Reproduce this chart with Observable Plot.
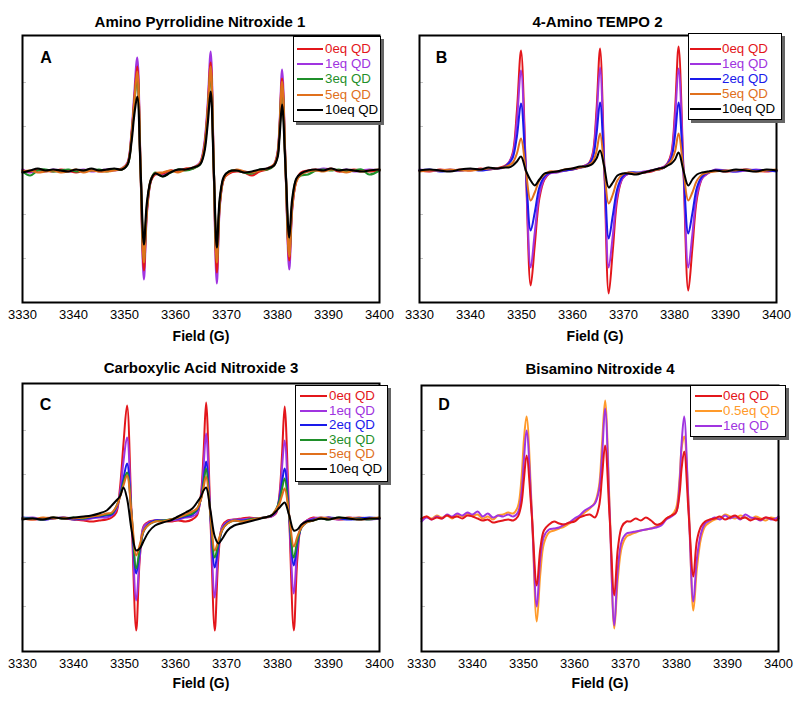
<!DOCTYPE html>
<html><head><meta charset="utf-8">
<script src="https://cdn.jsdelivr.net/npm/d3@7"></script>
<script src="https://cdn.jsdelivr.net/npm/@observablehq/plot@0.6"></script>
<style>
body{margin:0;background:#fff;font-family:"Liberation Sans",Arial,sans-serif;}
#fig{position:relative;width:800px;height:701px;overflow:hidden;background:#fff;}
.panel{position:absolute;}
.lbl{position:absolute;transform:translate(-50%,-50%);white-space:nowrap;font-weight:bold;color:#000;}
.legend{position:absolute;background:#fff;border:1px solid #000;box-shadow:3px 3px 0 #666;box-sizing:border-box;z-index:5;}
.legend .sw{position:absolute;height:2px;}
.legend .tx{position:absolute;font-size:13.3px;line-height:16px;height:16px;white-space:nowrap;}
</style></head>
<body><div id="fig"></div>
<script>
// ---------- shared ticks ----------
const fieldTicks = [3330, 3340, 3350, 3360, 3370, 3380, 3390, 3400];
const yTicks = [-88, -44, 0, 44, 88];

// ---------- Panel A: Amino Pyrrolidine Nitroxide 1 ----------
const fieldA = [3330, 3331.5, 3333, 3334.5, 3336, 3337.5, 3339, 3340.5, 3342, 3343.5, 3345, 3346.5, 3348, 3349.5,
  3350.6, 3351.4, 3351.9, 3352.5, 3353.15, 3353.8, 3354.4, 3355.2, 3356,
  3357.5, 3359, 3360.5, 3362, 3363.5, 3364.8,
  3365.6, 3366.3, 3366.9, 3367.5, 3368.1, 3368.7, 3369.5, 3370.5,
  3372, 3373.5, 3375, 3376.5, 3378, 3379.3,
  3380.0, 3380.4, 3380.9, 3381.6, 3382.3, 3382.9, 3383.7, 3384.6,
  3386, 3387.5, 3389, 3390.5, 3392, 3393.5, 3395, 3396.5, 3398, 3400];
const A_0eq = [0, -1, 1, 0, -1, 1, 0, -2, 0, 1, -1, 0, 1, 1,
  7, 37, 69, 104, 1, -100, -40, -10, -4,
  -3, 0, -1, 2, 2, 7,
  22, 60, 108, 2, -102, -33, -8, -3,
  -1, -2, -5, -1, 1, 5,
  16, 42, 92, 0, -90, -36, -10, -2,
  0, 1, 0, 2, -1, 0, 1, 0, -1, 0];
const A_1eq = [1, -2, 0, -1, 1, 0, -1, 0, 1, -1, 0, 1, 0, 2,
  8, 40, 75, 113, 2, -109, -42, -10, -3,
  -4, -1, 0, 1, 3, 8,
  25, 65, 119, 3, -113, -35, -8, -2,
  0, -1, -3, 0, 2, 6,
  18, 45, 101, 0, -99, -38, -10, -3,
  -1, 0, 2, 1, 0, 1, -1, 0, 1, 0];
const A_3eq = [-1, -5, 0, 1, -1, 0, 1, -1, 0, 0, 1, -1, 1, 1,
  6, 35, 65, 95, 1, -90, -37, -9, -2,
  -6, -2, 1, 0, 2, 6,
  20, 56, 100, 2, -90, -31, -7, -1,
  0, -2, -3, 1, 1, 5,
  15, 40, 85, 0, -84, -33, -9, -5,
  -4, 0, 1, 0, 1, -1, 0, 1, -4, 0];
const A_5eq = [-1, 0, -2, -1, 0, -2, -1, 1, -2, 0, -1, -1, 0, 2,
  7, 36, 67, 99, 1, -92, -38, -9, -3,
  -2, 0, -2, 1, 3, 7,
  21, 58, 104, 2, -92, -32, -8, -2,
  1, -1, -2, 0, 2, 6,
  16, 41, 89, 0, -86, -35, -11, -4,
  -1, 0, -1, 1, 0, -2, 0, -1, 0, 1];
const A_10eq = [-2, 0, 2, 0, 1, 0, -1, 1, 0, 2, 0, 1, 2, 1,
  6, 30, 55, 74, 1, -74, -32, -9, -3,
  -6, -2, 1, 1, 3, 6,
  17, 46, 79, 2, -77, -27, -6, -1,
  0, -2, -1, 1, 2, 5,
  13, 34, 66, 0, -67, -28, -8, -3,
  0, 1, 0, 2, 0, 1, 0, -1, 0, 1];

// ---------- Panel B: 4-Amino TEMPO 2 ----------
const fieldB = [3330, 3332, 3334, 3336, 3338, 3340, 3342, 3343.5, 3345, 3346.5,
  3347.5, 3348.3, 3349.1, 3349.9, 3350.85, 3351.8, 3352.6, 3353.5, 3354.5, 3355.5,
  3357, 3358.5, 3360, 3361.5, 3362.5,
  3363.3, 3364.0, 3364.7, 3365.4, 3366.25, 3367.1, 3367.9, 3368.8, 3369.8, 3371,
  3372.5, 3374, 3375.5, 3377, 3378,
  3378.7, 3379.4, 3380.1, 3380.8, 3381.75, 3382.7, 3383.5, 3384.4, 3385.4, 3386.5,
  3388, 3390, 3392, 3394, 3396, 3398, 3400];
const B_0eq = [0, -1, 1, 0, 1, 0, 2, 1, 2, 4,
  8, 18, 60, 120, 2, -115, -75, -28, -9, -3,
  -1, 0, 1, 3, 5,
  8, 18, 60, 122, 2, -123, -80, -28, -8, -3,
  -3, -2, -1, 2, 4,
  8, 18, 60, 124, 2, -120, -78, -28, -8, -3,
  0, -1, 0, 1, 0, -1, 0];
const B_1eq = [1, 0, 0, 1, 0, 1, 1, 2, 2, 3,
  8, 16, 50, 100, 2, -97, -62, -24, -8, -3,
  -2, 0, 2, 3, 5,
  7, 16, 52, 103, 2, -97, -65, -24, -8, -3,
  -3, -1, 0, 2, 4,
  7, 16, 52, 102, 2, -97, -64, -24, -8, -3,
  1, 0, -1, 0, 1, 0, 0];
const B_2eq = [0, 1, -1, 0, 0, 1, 0, 1, 2, 3,
  7, 13, 34, 67, 1, -60, -42, -17, -6, -2,
  -1, 0, 1, 3, 4,
  7, 13, 36, 68, 1, -68, -45, -18, -6, -2,
  -2, -2, 0, 1, 3,
  7, 13, 35, 68, 1, -63, -43, -17, -6, -2,
  0, 0, -1, 1, 0, 0, -1];
const B_5eq = [-1, 0, 0, 1, 0, 0, 1, 2, 2, 3,
  5, 8, 17, 32, 0, -30, -22, -10, -4, -1,
  -1, 1, 2, 3, 4,
  6, 9, 19, 37, 1, -33, -24, -10, -4, -2,
  -3, -2, 0, 1, 3,
  6, 10, 19, 37, 1, -30, -22, -10, -4, -2,
  -1, 0, 0, 1, -1, 0, 1];
const B_10eq = [0, 1, 0, -1, 1, 2, 1, 3, 2, 3,
  3, 5, 9, 14, 0, -10, -15, -9, -3, -2,
  -1, 1, 2, 4, 4,
  5, 7, 12, 20, 3, -17, -12, -5, -3, -3,
  -4, -2, 0, 2, 3,
  5, 7, 11, 18, 0, -15, -9, -4, -2, -1,
  0, -1, 1, 0, -1, 1, 0];

// ---------- Panel C: Carboxylic Acid Nitroxide 3 ----------
const fieldC = [3330, 3332, 3334, 3336, 3338, 3340, 3342, 3343.5, 3345, 3346.5,
  3347.5, 3348.4, 3349.1, 3349.8, 3350.5, 3351.4, 3352.3, 3353.0, 3353.8, 3354.8, 3356,
  3357.5, 3359, 3360.5, 3362, 3363.3,
  3364.2, 3365.0, 3365.5, 3366.0, 3366.85, 3367.7, 3368.4, 3369.2, 3370.2, 3371.5,
  3373, 3374.5, 3376, 3377.5, 3378.8,
  3379.7, 3380.4, 3380.9, 3381.4, 3382.3, 3383.2, 3383.9, 3384.7, 3385.7, 3387,
  3388.5, 3390, 3392, 3394, 3396, 3398, 3400];
const C_0eq = [0, -1, 0, 1, 0, -1, -2, -3, -2, -1,
  1, 6, 30, 75, 113, 0, -112, -40, -7, -3, -2,
  -2, -3, -2, -3, -1,
  3, 25, 65, 116, 0, -112, -40, -7, -2, -1,
  0, 1, 0, 1, 2,
  5, 25, 65, 112, 0, -112, -40, -7, -2, 1,
  0, 1, -1, 0, 1, 0, 0];
const C_1eq = [0, 1, -1, 0, 1, 0, -1, 0, 1, 1,
  3, 9, 25, 57, 81, 0, -82, -38, -8, -4, -2,
  -2, -2, -1, 1, 2,
  5, 22, 52, 85, 0, -79, -32, -8, -3, -1,
  -1, 0, 0, 1, 2,
  6, 22, 52, 78, 0, -75, -30, -7, -2, 0,
  1, 0, -1, 1, 0, -1, 0];
const C_2eq = [1, 0, -1, 0, 1, -1, 0, 1, 2, 3,
  4, 11, 22, 40, 55, 2, -55, -32, -12, -5, -2,
  -2, -1, 0, 2, 4,
  8, 20, 38, 57, 2, -49, -28, -11, -4, -2,
  -2, -1, 0, 1, 3,
  8, 20, 37, 50, 2, -47, -25, -9, -4, -1,
  0, 1, 0, -1, 0, 1, 0];
const C_3eq = [0, 0, -1, 1, 0, 1, 0, 2, 3, 4,
  5, 12, 22, 36, 46, 3, -50, -30, -12, -6, -3,
  -2, -1, 1, 3, 5,
  9, 20, 35, 50, 3, -39, -25, -11, -5, -2,
  -3, -1, 0, 1, 3,
  9, 18, 30, 40, 2, -39, -22, -9, -4, -2,
  0, -1, 1, 0, 0, -1, 1];
const C_5eq = [0, -1, 1, 0, 1, 0, 1, 2, 3, 5,
  6, 12, 21, 33, 43, 4, -37, -26, -12, -6, -3,
  -3, -1, 1, 4, 7,
  10, 19, 31, 42, 4, -32, -22, -11, -5, -2,
  -3, -2, 0, 1, 3,
  9, 15, 23, 30, 3, -28, -18, -9, -4, -2,
  1, 0, 0, 1, -1, 0, 1];
const C_10eq = [-1, 0, -1, 1, 0, 1, 2, 3, 5, 8,
  13, 18, 22, 31, 20, -12, -32, -30, -22, -13, -7,
  -4, -2, 2, 6, 10,
  16, 22, 28, 31, 8, -18, -25, -20, -12, -7,
  -5, -3, -1, 1, 3,
  7, 11, 14, 16, 3, -12, -11, -6, -3, -2,
  0, -1, 1, 0, -1, 0, 0];

// ---------- Panel D: Bisamino Nitroxide 4 ----------
const fieldD = [3330, 3331, 3332, 3333, 3334, 3335, 3336, 3337, 3338, 3339, 3340, 3341, 3342, 3343, 3344, 3345, 3346, 3347, 3348,
  3348.9, 3349.6, 3350.1, 3350.6, 3351.6, 3352.6, 3353.3, 3354.0, 3355,
  3356, 3357, 3358, 3359, 3360, 3361, 3362, 3363, 3364, 3364.8,
  3365.4, 3366.0, 3366.9, 3367.8, 3368.5, 3369.3, 3370.2,
  3371, 3372, 3373, 3374, 3375, 3376, 3377, 3378, 3379, 3379.9,
  3380.6, 3381.0, 3381.5, 3382.4, 3383.3, 3384.0, 3384.8, 3385.6,
  3386.5, 3387.5, 3388.5, 3389.5, 3390.5, 3391.5, 3392.5, 3393.5, 3394.5, 3395.5, 3396.5, 3397.5, 3398.5, 3399.5, 3400];
const D_0eq = [0, 2, -1, 1, 0, 3, 1, 2, 0, 3, 2, 0, -2, -1, -4, -3, -2, -1, -2,
  2, 15, 40, 63, 5, -67, -30, -12, -6,
  -3, -5, -6, -4, -3, 1, 3, 4, 1, 12,
  42, 73, 0, -77, -30, -8, -3,
  -3, 0, -2, 1, -2, -6, -5, 0, 3, 6,
  25, 50, 67, 3, -58, -22, -8, -3,
  -1, 0, 2, -1, 1, 3, 0, 1, -2, 0, -1, 1, 0, -2, 0];
const D_05eq = [-1, 2, 0, 3, 1, 3, 0, 4, 2, 5, 3, 4, 0, 2, -1, 3, 4, 6, 5,
  12, 40, 80, 102, 12, -103, -55, -25, -14,
  -12, -10, -8, -5, -1, 2, 6, 10, 16, 32,
  75, 118, 10, -110, -60, -28, -18,
  -16, -14, -12, -11, -10, -8, -5, 0, 3, 10,
  40, 70, 82, 12, -92, -50, -20, -8,
  -4, -1, 0, 4, 2, 0, 3, 1, -1, 2, 0, -2, 1, 0, 1];
const D_1eq = [-3, 1, -1, 2, 0, 4, 2, 5, 3, 6, 4, 7, 2, 5, 1, 3, 2, 4, 2,
  6, 25, 60, 88, 8, -88, -40, -18, -11,
  -10, -9, -6, -4, 0, 3, 8, 11, 15, 28,
  62, 110, 5, -107, -50, -22, -15,
  -14, -13, -12, -11, -10, -9, -7, -1, 2, 6,
  35, 75, 102, 8, -83, -40, -15, -5,
  -2, 1, -1, 3, 0, 2, -1, 4, 1, 0, -2, 1, -1, 0, 2];

// ---------- colours ----------
const RED = "#e3161b", PURPLE = "#a034e0", GREEN = "#1f8f2a", ORANGE = "#e0701c",
      BLUE = "#1a1aeb", BLACK = "#000000", LORANGE = "#ff9a2a";

// ---------- panels ----------
const panels = [
  {title: "Amino Pyrrolidine Nitroxide 1", letter: "A", left: 0, top: 0, height: 330,
   mt: 35, mb: 28, ml: 22, mr: 21, ydom: [-132, 135], x: fieldA, sw: 2.2,
   titlePos: [200, 20.5], letterPos: [46, 58], fieldPos: [201, 336],
   series: [
     {label: "1eq QD", color: PURPLE, values: A_1eq},
     {label: "0eq QD", color: RED, values: A_0eq},
     {label: "3eq QD", color: GREEN, values: A_3eq},
     {label: "5eq QD", color: ORANGE, values: A_5eq},
     {label: "10eq QD", color: BLACK, values: A_10eq}],
   legendOrder: ["0eq QD", "1eq QD", "3eq QD", "5eq QD", "10eq QD"],
   legend: {left: 293, top: 36, w: 88, h: 86, row0: 13, step: 15.2, l0: 4, l1: 30, tx: 32}},
  {title: "4-Amino TEMPO 2", letter: "B", left: 400, top: 0, height: 330,
   mt: 35, mb: 28, ml: 19, mr: 24, ydom: [-132, 135], x: fieldB, sw: 2,
   titlePos: [597.5, 20.5], letterPos: [441.5, 58], fieldPos: [595, 336],
   series: [
     {label: "0eq QD", color: RED, values: B_0eq},
     {label: "1eq QD", color: PURPLE, values: B_1eq},
     {label: "2eq QD", color: BLUE, values: B_2eq},
     {label: "5eq QD", color: ORANGE, values: B_5eq},
     {label: "10eq QD", color: BLACK, values: B_10eq}],
   legendOrder: ["0eq QD", "1eq QD", "2eq QD", "5eq QD", "10eq QD"],
   legend: {left: 688, top: 33, w: 94, h: 87, row0: 15.5, step: 15, l0: 2, l1: 33, tx: 34}},
  {title: "Carboxylic Acid Nitroxide 3", letter: "C", left: 0, top: 350, height: 330,
   mt: 33, mb: 29, ml: 22, mr: 21, ydom: [-133, 135], x: fieldC, sw: 2,
   titlePos: [201, 367], letterPos: [45.5, 404.5], fieldPos: [201, 683],
   series: [
     {label: "0eq QD", color: RED, values: C_0eq},
     {label: "1eq QD", color: PURPLE, values: C_1eq},
     {label: "2eq QD", color: BLUE, values: C_2eq},
     {label: "3eq QD", color: GREEN, values: C_3eq},
     {label: "5eq QD", color: ORANGE, values: C_5eq},
     {label: "10eq QD", color: BLACK, values: C_10eq}],
   legendOrder: ["0eq QD", "1eq QD", "2eq QD", "3eq QD", "5eq QD", "10eq QD"],
   legend: {left: 295, top: 385, w: 93, h: 97, row0: 11, step: 14.6, l0: 5, l1: 32, tx: 34}},
  {title: "Bisamino Nitroxide 4", letter: "D", left: 400, top: 350, height: 330,
   mt: 35, mb: 29, ml: 21, mr: 22, ydom: [-133, 133], x: fieldD, sw: 2,
   titlePos: [600, 367.5], letterPos: [444, 405], fieldPos: [600, 682.5],
   series: [
     {label: "0.5eq QD", color: LORANGE, values: D_05eq},
     {label: "1eq QD", color: PURPLE, values: D_1eq},
     {label: "0eq QD", color: RED, values: D_0eq}],
   legendOrder: ["0eq QD", "0.5eq QD", "1eq QD"],
   legend: {left: 690, top: 385, w: 96, h: 52, row0: 11, step: 15, l0: 5, l1: 32, tx: 33}}
];

const fig = document.getElementById("fig");

function addLabel(text, pos, size) {
  const d = document.createElement("div");
  d.className = "lbl";
  d.style.left = pos[0] + "px";
  d.style.top = pos[1] + "px";
  d.style.fontSize = size + "px";
  d.textContent = text;
  fig.appendChild(d);
}

for (const p of panels) {
  const frameW = 400 - p.ml - p.mr;
  const marks = [
    Plot.tickY(yTicks, {stroke: "#c4c4c4", strokeWidth: 1, insetRight: frameW - 4}),
    ...p.series.map(s => Plot.line(
      p.x.map((f, i) => ({field: f, signal: s.values[i]})),
      {x: "field", y: "signal", stroke: s.color, strokeWidth: p.sw, curve: "catmull-rom"})),
    Plot.axisX({ticks: fieldTicks, tickSize: 0, tickPadding: 7, label: null, tickFormat: d => String(d)}),
    Plot.frame({stroke: "#000", strokeWidth: 2})
  ];
  const chart = Plot.plot({
    width: 400, height: p.height,
    marginTop: p.mt, marginBottom: p.mb, marginLeft: p.ml, marginRight: p.mr,
    x: {domain: [3330, 3400]},
    y: {domain: p.ydom, axis: null},
    style: {fontFamily: '"Liberation Sans", Arial, sans-serif', fontSize: "13px", color: "#000", background: "transparent", overflow: "visible"},
    marks
  });
  const wrap = document.createElement("div");
  wrap.className = "panel";
  wrap.style.left = p.left + "px";
  wrap.style.top = p.top + "px";
  wrap.appendChild(chart);
  fig.appendChild(wrap);

  addLabel(p.title, p.titlePos, 15);
  addLabel(p.letter, p.letterPos, 16);
  addLabel("Field (G)", p.fieldPos, 14);

  // legend
  const L = p.legend;
  const box = document.createElement("div");
  box.className = "legend";
  Object.assign(box.style, {left: L.left + "px", top: L.top + "px", width: L.w + "px", height: L.h + "px"});
  p.legendOrder.forEach((lab, i) => {
    const s = p.series.find(q => q.label === lab);
    const cy = L.row0 + i * L.step;
    const sw = document.createElement("div");
    sw.className = "sw";
    Object.assign(sw.style, {left: (L.l0 - 1) + "px", width: (L.l1 - L.l0) + "px", top: (cy - 2) + "px", background: s.color});
    const tx = document.createElement("div");
    tx.className = "tx";
    Object.assign(tx.style, {left: (L.tx - 1) + "px", top: (cy - 9) + "px", color: s.color});
    tx.textContent = lab;
    box.appendChild(sw);
    box.appendChild(tx);
  });
  fig.appendChild(box);
}
</script>
</body></html>
